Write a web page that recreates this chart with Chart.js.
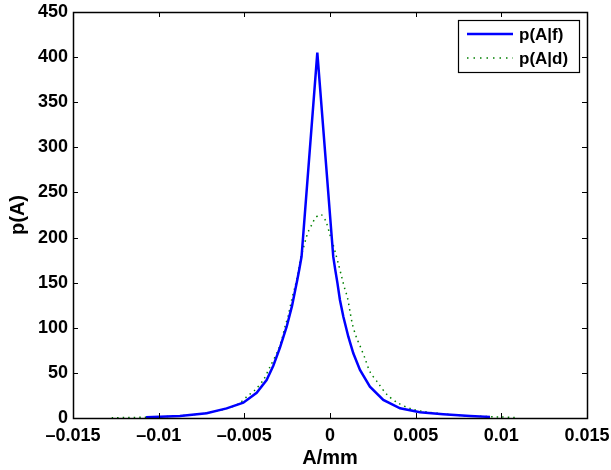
<!DOCTYPE html>
<html>
<head>
<meta charset="utf-8">
<script src="https://cdn.jsdelivr.net/npm/chart.js@4.4.0/dist/chart.umd.min.js"></script>
<style>
  html, body { margin: 0; padding: 0; background: #fff; }
  #wrap { width: 611px; height: 470px; }
</style>
</head>
<body>
<div id="wrap"><canvas id="pdfChart" width="611" height="470"></canvas></div>
<script>
// p(A|f) - solid blue
const fX = [-0.01074, -0.00876, -0.0072, -0.00603, -0.00506, -0.00428, -0.0037, -0.00331, -0.00292,
            -0.00253, -0.00222, -0.00205, -0.00191, -0.00178, -0.00166, -0.00074,
            0.00019, 0.0003, 0.00043, 0.00058, 0.00078, 0.00107, 0.00136, 0.00175, 0.00233, 0.00311,
            0.00409, 0.00525, 0.00661, 0.00817, 0.00934];
const fY = [0.8, 2.2, 5.2, 10.7, 17, 28, 42.1, 58, 78,
            101.2, 124, 140, 153, 166, 179, 405,
            178.8, 165, 150, 130.8, 112.3, 90.1, 71.7, 53.2, 34.7, 20,
            10.7, 6.3, 4.1, 2.2, 1.2];

// p(A|d) - dotted green
const dX = [-0.01274, -0.01, -0.00817, -0.007, -0.00613, -0.00535, -0.00486, -0.00438, -0.00389,
            -0.0035, -0.00311, -0.00282, -0.00263, -0.00243, -0.00224, -0.00204, -0.00185, -0.00171,
            -0.00156, -0.0014, -0.00127, -0.00107, -0.00088, -0.00068, -0.00048, -0.00023, 0.0,
            0.00016, 0.00035, 0.00048, 0.00068, 0.00088, 0.00101, 0.00117, 0.00132, 0.00156,
            0.00175, 0.00204, 0.00233, 0.00282, 0.00331, 0.00399, 0.00477, 0.00554, 0.00681,
            0.00778, 0.0109];
const dY = [0.3, 1.2, 3.3, 6.3, 10, 15.5, 23.6, 31, 42.1,
            56.9, 71.7, 86.5, 101, 114, 130.8, 145.5, 162, 177,
            188, 199, 206.5, 214, 221, 224.5, 225, 217.6, 202.8,
            193.6, 180.7, 171.5, 156.6, 141.9, 134.4, 117.8, 103, 88.3,
            80.1, 66.2, 51.3, 38.5, 26.3, 16.3, 10, 7, 4.1,
            2.6, 0.5];

const xTicks = [-0.015, -0.01, -0.005, 0, 0.005, 0.01, 0.015];
const yTicks = [0, 50, 100, 150, 200, 250, 300, 350, 400, 450];
const seriesNames = ['p(A|f)', 'p(A|d)'];

const FONT = '"Liberation Sans", Arial, Helvetica, sans-serif';

function toPoints(xs, ys) {
    return xs.map((x, i) => ({ x: x, y: ys[i] }));
}

function fmtX(v) {
    if (Math.abs(v) < 1e-12) return '0';
    const s = String(Math.round(v * 1000) / 1000);
    return s.replace('-', '\u2013');
}

// MATLAB-like box, inward ticks, legend and axis titles
const matlabFrame = {
    id: 'matlabFrame',
    afterDraw(chart) {
        const ctx = chart.ctx;
        const a = chart.chartArea;
        const xs = chart.scales.x;
        const ys = chart.scales.y;
        const tl = 5;

        ctx.save();
        ctx.strokeStyle = '#000';
        ctx.lineWidth = 1;
        ctx.beginPath();
        xTicks.forEach(v => {
            const px = Math.round(xs.getPixelForValue(v)) + 0.5;
            ctx.moveTo(px, a.bottom); ctx.lineTo(px, a.bottom - tl);
            ctx.moveTo(px, a.top); ctx.lineTo(px, a.top + tl);
        });
        yTicks.forEach(v => {
            const py = Math.round(ys.getPixelForValue(v)) + 0.5;
            ctx.moveTo(a.left, py); ctx.lineTo(a.left + tl, py);
            ctx.moveTo(a.right, py); ctx.lineTo(a.right - tl, py);
        });
        ctx.stroke();
        ctx.lineWidth = 1.5;
        ctx.strokeRect(Math.round(a.left) + 0.5, Math.round(a.top) + 0.5,
                       Math.round(a.right - a.left), Math.round(a.bottom - a.top));

        // legend
        const lx = 458, ly = 20, lw = 121, lh = 52;
        ctx.fillStyle = '#fff';
        ctx.fillRect(lx, ly, lw, lh);
        ctx.lineWidth = 1.2;
        ctx.strokeRect(lx + 0.5, ly + 0.5, lw, lh);

        ctx.lineWidth = 2.5;
        ctx.strokeStyle = '#0000ff';
        ctx.beginPath(); ctx.moveTo(467, 34); ctx.lineTo(513, 34); ctx.stroke();

        ctx.lineWidth = 1.5;
        ctx.strokeStyle = '#008000';
        ctx.setLineDash([1.5, 5]);
        ctx.beginPath(); ctx.moveTo(467, 58); ctx.lineTo(513, 58); ctx.stroke();
        ctx.setLineDash([]);

        ctx.fillStyle = '#000';
        ctx.font = 'bold 17px ' + FONT;
        ctx.textBaseline = 'middle';
        ctx.textAlign = 'left';
        ctx.fillText(seriesNames[0], 519, 35);
        ctx.fillText(seriesNames[1], 519, 59);

        // axis titles
        ctx.font = 'bold 20px ' + FONT;
        ctx.textAlign = 'center';
        ctx.fillText('A/mm', (a.left + a.right) / 2, 458);
        ctx.translate(18, (a.top + a.bottom) / 2);
        ctx.rotate(-Math.PI / 2);
        ctx.fillText('p(A)', 0, 0);
        ctx.restore();
    }
};

new Chart(document.getElementById('pdfChart'), {
    type: 'scatter',
    data: {
        datasets: [
            {
                label: seriesNames[0],
                data: toPoints(fX, fY),
                showLine: true,
                borderColor: '#0000ff',
                borderWidth: 2.5,
                pointRadius: 0,
                tension: 0,
                order: 1
            },
            {
                label: seriesNames[1],
                data: toPoints(dX, dY),
                showLine: true,
                borderColor: '#008000',
                borderWidth: 1.5,
                borderDash: [1.5, 4],
                pointRadius: 0,
                tension: 0.3,
                order: 2
            }
        ]
    },
    options: {
        responsive: false,
        animation: false,
        layout: { padding: { left: 0, right: 24, top: 12, bottom: 0 } },
        plugins: {
            legend: { display: false },
            tooltip: { enabled: false }
        },
        scales: {
            x: {
                type: 'linear',
                min: -0.015,
                max: 0.015,
                grid: { display: false, drawTicks: false },
                border: { display: false },
                afterBuildTicks: scale => { scale.ticks = xTicks.map(v => ({ value: v })); },
                afterFit: scale => {
                    scale.height = 52;
                    scale.paddingLeft = 0;
                    scale.paddingRight = 0;
                },
                ticks: {
                    padding: 7,
                    color: '#000',
                    font: { family: FONT, size: 18, weight: 'bold' },
                    maxRotation: 0,
                    autoSkip: false,
                    callback: v => fmtX(v)
                }
            },
            y: {
                min: 0,
                max: 450,
                grid: { display: false, drawTicks: false },
                border: { display: false },
                afterBuildTicks: scale => { scale.ticks = yTicks.map(v => ({ value: v })); },
                afterFit: scale => {
                    scale.width = 73;
                    scale.paddingTop = 0;
                    scale.paddingBottom = 0;
                },
                ticks: {
                    padding: 5,
                    color: '#000',
                    font: { family: FONT, size: 18, weight: 'bold' },
                    autoSkip: false
                }
            }
        }
    },
    plugins: [matlabFrame]
});
</script>
</body>
</html>
